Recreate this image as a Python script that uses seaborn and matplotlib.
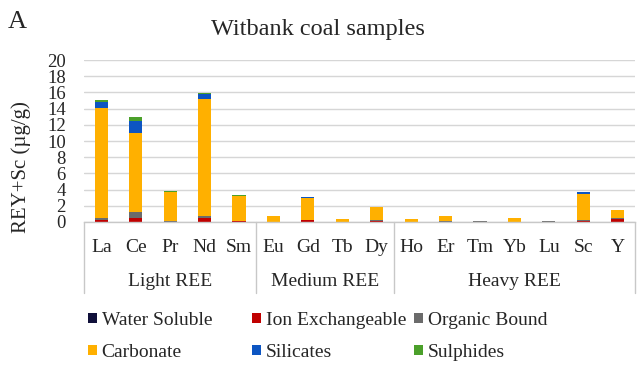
import numpy as np
import pandas as pd
import matplotlib
matplotlib.use("Agg")
import matplotlib.pyplot as plt
import seaborn as sns
from matplotlib.patches import Patch

categories = ["La", "Ce", "Pr", "Nd", "Sm", "Eu", "Gd", "Tb", "Dy",
              "Ho", "Er", "Tm", "Yb", "Lu", "Sc", "Y"]
groups = ["Light REE", "Medium REE", "Heavy REE"]
group_sizes = [5, 4, 7]

water_soluble = [0.02, 0.02, 0.0, 0.02, 0.0, 0.0, 0.0, 0.0, 0.0, 0.0, 0.0, 0.0, 0.0, 0.0, 0.0, 0.02]
ion_exchangeable = [0.25, 0.5, 0.05, 0.5, 0.12, 0.02, 0.2, 0.02, 0.15, 0.02, 0.05, 0.01, 0.03, 0.01, 0.15, 0.35]
organic_bound = [0.25, 0.73, 0.08, 0.28, 0.05, 0.02, 0.05, 0.02, 0.05, 0.02, 0.03, 0.1, 0.02, 0.1, 0.05, 0.08]
carbonate = [13.6, 9.76, 3.52, 14.36, 3.05, 0.7, 2.75, 0.38, 1.6, 0.3, 0.63, 0.02, 0.43, 0.02, 3.26, 1.0]
silicates = [0.75, 1.4, 0.02, 0.62, 0.02, 0.0, 0.03, 0.0, 0.03, 0.0, 0.0, 0.0, 0.0, 0.0, 0.2, 0.02]
sulphides = [0.2, 0.53, 0.13, 0.17, 0.08, 0.03, 0.1, 0.01, 0.08, 0.01, 0.06, 0.0, 0.05, 0.0, 0.05, 0.03]

series_names = ["Water Soluble", "Ion Exchangeable", "Organic Bound",
                "Carbonate", "Silicates", "Sulphides"]
series_values = [water_soluble, ion_exchangeable, organic_bound,
                 carbonate, silicates, sulphides]
colors = ["#10103a", "#c00000", "#6b6b6b", "#ffb000", "#0d55c2", "#4ba02a"]

sns.set_theme(style="white")
serif = ["Liberation Serif", "DejaVu Serif"]
plt.rcParams["font.family"] = serif

fig = plt.figure(figsize=(6.39, 3.72), dpi=100)
W, H = 639, 372
x0, x1, y_top, y_bot = 84, 635, 60, 222
ax = fig.add_axes([x0 / W, 1 - y_bot / H, (x1 - x0) / W, (y_bot - y_top) / H])

cum = np.cumsum(np.array(series_values), axis=0)
for i in range(len(series_names) - 1, -1, -1):
    d = pd.DataFrame({"cat": categories, "v": cum[i]})
    sns.barplot(data=d, x="cat", y="v", order=categories, color=colors[i],
                saturation=1, width=0.38, errorbar=None, linewidth=0, ax=ax)

ax.set_ylim(0, 20)
ax.set_xlim(-0.5, len(categories) - 0.5)
ax.set_yticks(range(0, 21, 2))
ax.yaxis.grid(True, color="#d6d6d6", linewidth=1)
ax.set_axisbelow(True)
for s in ["top", "right", "left"]:
    ax.spines[s].set_visible(False)
ax.spines["bottom"].set_color("#c8c8c8")
ax.spines["bottom"].set_linewidth(1)
ax.tick_params(axis="y", length=0, labelsize=13.5, pad=13)
ax.tick_params(axis="x", length=0, labelsize=14, pad=12)
ax.set_xlabel("")
ax.set_ylabel("")

# Multi-level category box
trans = ax.get_xaxis_transform()
box_bottom = -(293 - y_bot) / (y_bot - y_top)
bounds = [-0.5]
acc = -0.5
for g in group_sizes:
    acc += g
    bounds.append(acc)
for b in bounds:
    ax.plot([b, b], [0, box_bottom], transform=trans, color="#c8c8c8",
            linewidth=1, clip_on=False)
start = 0
label_y = -(282 - y_bot) / (y_bot - y_top)
for g, n in zip(groups, group_sizes):
    center = start + (n - 1) / 2
    ax.text(center, label_y, g, transform=trans, ha="center", va="center",
            fontsize=14)
    start += n

fig.text(318 / W, 1 - 30 / H, "Witbank coal samples", ha="center", va="center",
         fontsize=17.5)
fig.text(17 / W, 1 - 22 / H, "A", ha="center", va="center", fontsize=19)
fig.text(21 / W, 1 - 167 / H, "REY+Sc (µg/g)", rotation=90, ha="center",
         va="center", fontsize=15)

# Legend in three columns
col_x = [88, 252, 414]
for c in range(3):
    handles = [Patch(facecolor=colors[c], edgecolor="none", label=series_names[c]),
               Patch(facecolor=colors[c + 3], edgecolor="none", label=series_names[c + 3])]
    fig.legend(handles=handles, loc="upper left",
               bbox_to_anchor=(col_x[c] / W, 1 - 312 / H), frameon=False,
               fontsize=14, handlelength=0.45, handleheight=0.45,
               handletextpad=0.25, labelspacing=0.77, borderpad=0,
               borderaxespad=0)

fig.savefig("out.png", dpi=100)
